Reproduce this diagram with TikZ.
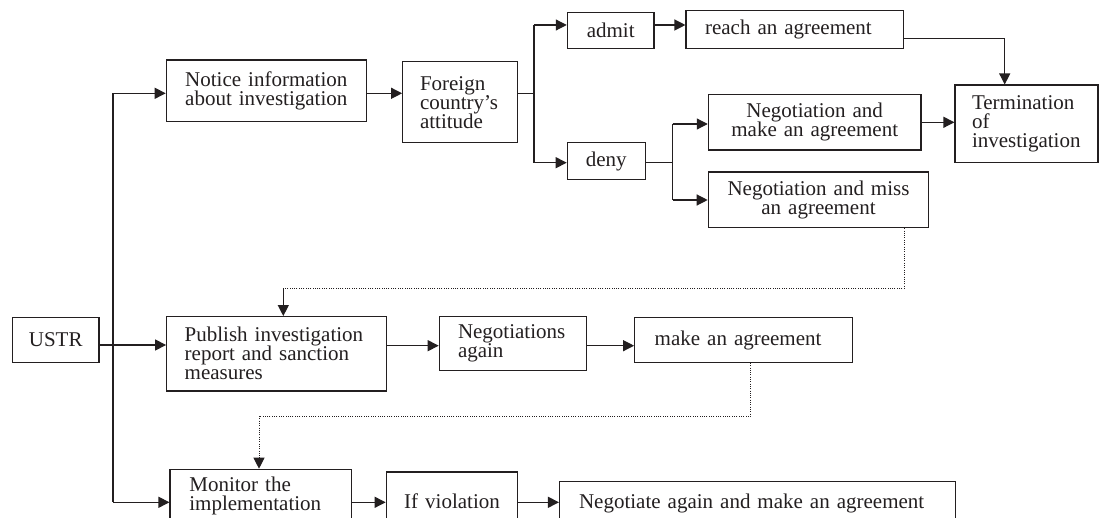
\documentclass[tikz,border=0pt]{standalone}
\usepackage{fontspec}
\setmainfont{Liberation Serif}
\usetikzlibrary{arrows.meta}
\definecolor{ink}{RGB}{35,31,32}
\newcommand\dfont{\fontsize{21}{19}\selectfont\lineskiplimit=-20pt\lineskip=0pt\relax}
\tikzset{
  box/.style={draw=ink, line width=1.2pt, inner sep=0pt, font=\dfont, text=ink},
  sz/.style 2 args={minimum width=#1pt, minimum height=#2pt},
  tw/.style={text width=#1pt},
  ln/.style={draw=ink, line width=1.2pt},
  arr/.style={ln, -{Triangle[length=11pt,width=11pt]}},
  dotln/.style={draw=ink, line width=1pt, dash pattern=on 1pt off 1.3pt},
  dotarr/.style={dotln, -{Triangle[length=11pt,width=11pt]}},
}
\begin{document}
\begin{tikzpicture}[x=1pt,y=-1pt]
\useasboundingbox (0,0) rectangle (1099,518);
\clip (0,0) rectangle (1099,518);
\fill[white] (0,0) rectangle (1099,518);

% nodes
\node[box, sz={86.7}{44.6}, tw=70, align=center] (ustr) at (55.7,340) {USTR};
\node[box, sz={200}{61.7}, tw=185, align=center] (notice) at (266.3,90.9) {Notice information\\about investigation};
\node[box, sz={114.6}{81}, tw=80, align=left] (foreign) at (460,102.2) {Foreign\\country's\\attitude};
\node[box, sz={86.7}{36.4}, tw=60, align=center] (admit) at (610.7,30.5) {admit};
\node[box, sz={217.7}{38}, tw=179.7, align=left] (reach) at (794.9,29.7) {reach an agreement};
\node[box, sz={78}{36.6}, tw=60, align=center] (deny) at (606.3,161) {deny};
\node[box, sz={212.7}{55.3}, tw=190, align=center] (negmake) at (814.7,122.3) {Negotiation and\\make an agreement};
\node[box, sz={220.4}{55.7}, tw=200, align=center] (negmiss) at (818.5,199.8) {Negotiation and miss\\an agreement};
\node[box, sz={143}{77.3}, tw=109, align=left] (term) at (1026.5,123.7) {Termination\\of\\investigation};
\node[box, sz={220}{74.3}, tw=184, align=left] (publish) at (276.7,353.8) {Publish investigation\\report and sanction\\measures};
\node[box, sz={147.4}{54}, tw=110, align=left] (negagain) at (513,343.7) {Negotiations\\again};
\node[box, sz={217.6}{44.6}, tw=177.6, align=left] (make) at (743.5,340) {make an agreement};
\node[box, sz={181.7}{53.8}, tw=143, align=left] (monitor) at (260.9,496.2) {Monitor the\\implementation};
\node[box, sz={131.5}{58}, tw=110, align=center] (ifv) at (452,501) {If violation};
\node[box, sz={395.7}{43.4}, tw=356.7, align=left] (neg2) at (757.4,503.4) {Negotiate again and make an agreement};

% coordinates
\coordinate (t1) at (113,93.3);
\coordinate (t3) at (113,502.3);
\coordinate (ba) at (534,25);
\coordinate (bd) at (534,162.7);
\coordinate (da) at (672.7,124);
\coordinate (db) at (672.7,200);
\coordinate (rt) at (1004.7,38.3);
\coordinate (dm) at (904.2,288.5);
\coordinate (dp) at (283.3,288.5);
\coordinate (em) at (750.9,416);
\coordinate (ep) at (259,416);

% trunk
\draw[ln] (t1) -- (t3);
\draw[arr] (t1) -- (t1 -| notice.west);
\draw[arr] ([yshift=-5pt]ustr.east) -- ([yshift=-5pt]ustr.east -| publish.west);
\draw[arr] (t3) -- (t3 -| monitor.west);

% top row
\draw[arr] (t1 -| notice.east) -- (t1 -| foreign.west);
\draw[ln] (t1 -| foreign.east) -- (t1 -| ba);
\draw[ln] (ba) -- (bd);
\draw[arr] (ba) -- (ba -| admit.west);
\draw[arr] (bd) -- (bd -| deny.west);
\draw[arr] (ba -| admit.east) -- (ba -| reach.west);
\draw[arr] (reach.east |- rt) -- (rt) -- (rt |- term.north);
\draw[ln] (bd -| deny.east) -- (bd -| da);
\draw[ln] (da) -- (db);
\draw[arr] (da) -- (da -| negmake.west);
\draw[arr] (db) -- (db -| negmiss.west);
\draw[arr] (negmake.east) -- (negmake.east -| term.west);

% dotted feedback 1
\draw[dotln] (negmiss.south -| dm) -- (dm) -- (dp);
\draw[arr] (dp) -- (dp |- publish.north);

% middle row
\draw[arr] ([yshift=-2pt]negagain.west -| publish.east) -- ([yshift=-2pt]negagain.west);
\draw[arr] ([yshift=-2pt]negagain.east) -- ([yshift=-2pt]negagain.east -| make.west);

% dotted feedback 2
\draw[dotln] (make.south -| em) -- (em) -- (ep);
\draw[dotarr] (ep) -- (ep |- monitor.north);

% bottom row
\draw[arr] (t3 -| monitor.east) -- (t3 -| ifv.west);
\draw[arr] (t3 -| ifv.east) -- (t3 -| neg2.west);
\end{tikzpicture}
\end{document}
